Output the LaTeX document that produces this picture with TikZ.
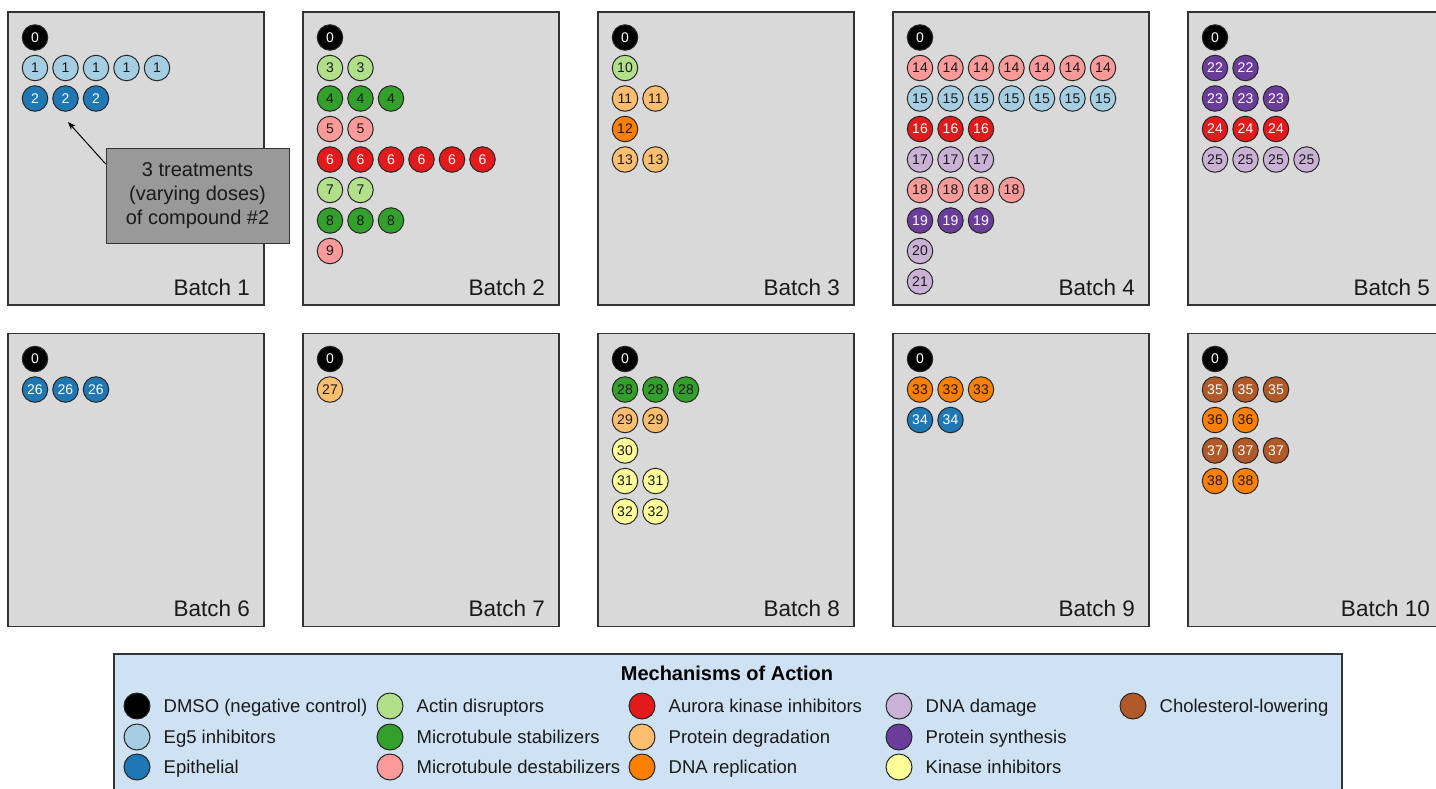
\documentclass[tikz,border=0pt]{standalone}
\usepackage{fontspec}
\setmainfont{Liberation Sans}
\usetikzlibrary{arrows.meta}
\definecolor{boxgray}{HTML}{D9D9D9}
\definecolor{legblue}{HTML}{CFE2F3}
\definecolor{anngray}{HTML}{999999}
\definecolor{edgegray}{HTML}{333333}
\definecolor{cEg}{HTML}{A6CEE3}
\definecolor{cEpi}{HTML}{1F78B4}
\definecolor{cActin}{HTML}{B2DF8A}
\definecolor{cMstab}{HTML}{33A02C}
\definecolor{cMdes}{HTML}{FB9A99}
\definecolor{cAur}{HTML}{E31A1C}
\definecolor{cPdeg}{HTML}{FDBF6F}
\definecolor{cDrep}{HTML}{FF7F00}
\definecolor{cDnad}{HTML}{CAB2D6}
\definecolor{cPsyn}{HTML}{6A3D9A}
\definecolor{cKin}{HTML}{FFFF99}
\definecolor{cChol}{HTML}{B15928}
\definecolor{darktext}{HTML}{1A1A1A}
\tikzset{
  batchbox/.style={draw=edgegray, line width=1.3pt, fill=boxgray, minimum width=256pt, minimum height=293pt, inner sep=0pt, outer sep=0pt},
  batchlabel/.style={font=\fontsize{22.5}{26}\selectfont, inner sep=0pt, text=darktext},
  dot/.style={circle, draw=black!85, line width=1pt, minimum size=25.5pt, inner sep=0pt, font=\fontsize{14}{16}\selectfont, text=darktext},
  legdot/.style={circle, draw=black!85, line width=1pt, minimum size=26pt, inner sep=0pt},
  legtext/.style={font=\fontsize{18.5}{22}\selectfont, inner sep=0pt, anchor=base west, text=darktext},
  dmso/.style={fill=black, text=white},
  eg/.style={fill=cEg},
  epi/.style={fill=cEpi, text=white},
  actin/.style={fill=cActin},
  mstab/.style={fill=cMstab},
  mdes/.style={fill=cMdes},
  aur/.style={fill=cAur, text=white},
  pdeg/.style={fill=cPdeg},
  drep/.style={fill=cDrep},
  dnad/.style={fill=cDnad},
  psyn/.style={fill=cPsyn, text=white},
  kin/.style={fill=cKin},
  chol/.style={fill=cChol, text=white},
  annot/.style={draw=edgegray, fill=anngray, line width=1pt, minimum width=183pt, minimum height=95pt, inner sep=0pt, align=center, font=\fontsize{20}{24}\selectfont, text=darktext},
  legendbox/.style={draw=edgegray, fill=legblue, line width=1.3pt, minimum width=1228pt, minimum height=160pt, inner sep=0pt, outer sep=0pt},
  titletext/.style={font=\bfseries\fontsize{20}{24}\selectfont, inner sep=0pt, anchor=base, text=black},
  pointer/.style={-{Stealth[length=8pt,width=6pt]}, line width=1pt, draw=black}
}
\newcommand\drawbatch[4]{%
  \node[batchbox, anchor=north west] (box#1) at (#2,#3) {};
  \node[batchlabel, anchor=base east] (lab#1) at (#2+242,#3+283) {Batch #1};
  \foreach \lbl/\cnt/\sty [count=\ri from 0] in {#4} {
    \foreach \ci in {1,...,\cnt} {
      \node[dot,\sty] (d#1-\ri-\ci) at ({#2+27+30.5*(\ci-1)}, {#3+25.5+30.5*\ri}) {\lbl};
    }
  }
}
\newcommand\legentry[5]{%
  \node[legdot,#4] (ld#5) at (#1,#2) {};
  \node[legtext] (lt#5) at (#1+26.5,#2+6.6) {#3};
}
\begin{document}
\begin{tikzpicture}[x=1pt,y=-1pt]
\useasboundingbox (0,0) rectangle (1436,788);
\clip (0,0) rectangle (1436,788);
\fill[white] (0,0) rectangle (1436,788);
% row 1
\drawbatch{1}{8}{12}{0/1/dmso, 1/5/eg, 2/3/epi}
\drawbatch{2}{303}{12}{0/1/dmso, 3/2/actin, 4/3/mstab, 5/2/mdes, 6/6/aur, 7/2/actin, 8/3/mstab, 9/1/mdes}
\drawbatch{3}{598}{12}{0/1/dmso, 10/1/actin, 11/2/pdeg, 12/1/drep, 13/2/pdeg}
\drawbatch{4}{893}{12}{0/1/dmso, 14/7/mdes, 15/7/eg, 16/3/aur, 17/3/dnad, 18/4/mdes, 19/3/psyn, 20/1/dnad, 21/1/dnad}
\drawbatch{5}{1188}{12}{0/1/dmso, 22/2/psyn, 23/3/psyn, 24/3/aur, 25/4/dnad}
% row 2
\drawbatch{6}{8}{333.5}{0/1/dmso, 26/3/epi}
\drawbatch{7}{303}{333.5}{0/1/dmso, 27/1/pdeg}
\drawbatch{8}{598}{333.5}{0/1/dmso, 28/3/mstab, 29/2/pdeg, 30/1/kin, 31/2/kin, 32/2/kin}
\drawbatch{9}{893}{333.5}{0/1/dmso, 33/3/drep, 34/2/epi}
\drawbatch{10}{1188}{333.5}{0/1/dmso, 35/3/chol, 36/2/drep, 37/3/chol, 38/2/drep}
% annotation
\node[annot] (ann) at (197.5,195.5) {3 treatments\\(varying doses)\\of compound \#2};
\coordinate (tip) at (68,122);
\draw[pointer] (ann.161.6) -- (tip);
% legend
\node[legendbox, anchor=north west] (legend) at (114,654) {};
\node[titletext] (title) at (727,680.5) {Mechanisms of Action};
\legentry{137}{706}{DMSO (negative control)}{dmso}{a}
\legentry{137}{737}{Eg5 inhibitors}{eg}{b}
\legentry{137}{767}{Epithelial}{epi}{c}
\legentry{390}{706}{Actin disruptors}{actin}{d}
\legentry{390}{737}{Microtubule stabilizers}{mstab}{e}
\legentry{390}{767}{Microtubule destabilizers}{mdes}{f}
\legentry{642}{706}{Aurora kinase inhibitors}{aur}{g}
\legentry{642}{737}{Protein degradation}{pdeg}{h}
\legentry{642}{767}{DNA replication}{drep}{i}
\legentry{899}{706}{DNA damage}{dnad}{j}
\legentry{899}{737}{Protein synthesis}{psyn}{k}
\legentry{899}{767}{Kinase inhibitors}{kin}{l}
\legentry{1133}{706}{Cholesterol-lowering}{chol}{m}
\end{tikzpicture}
\end{document}
